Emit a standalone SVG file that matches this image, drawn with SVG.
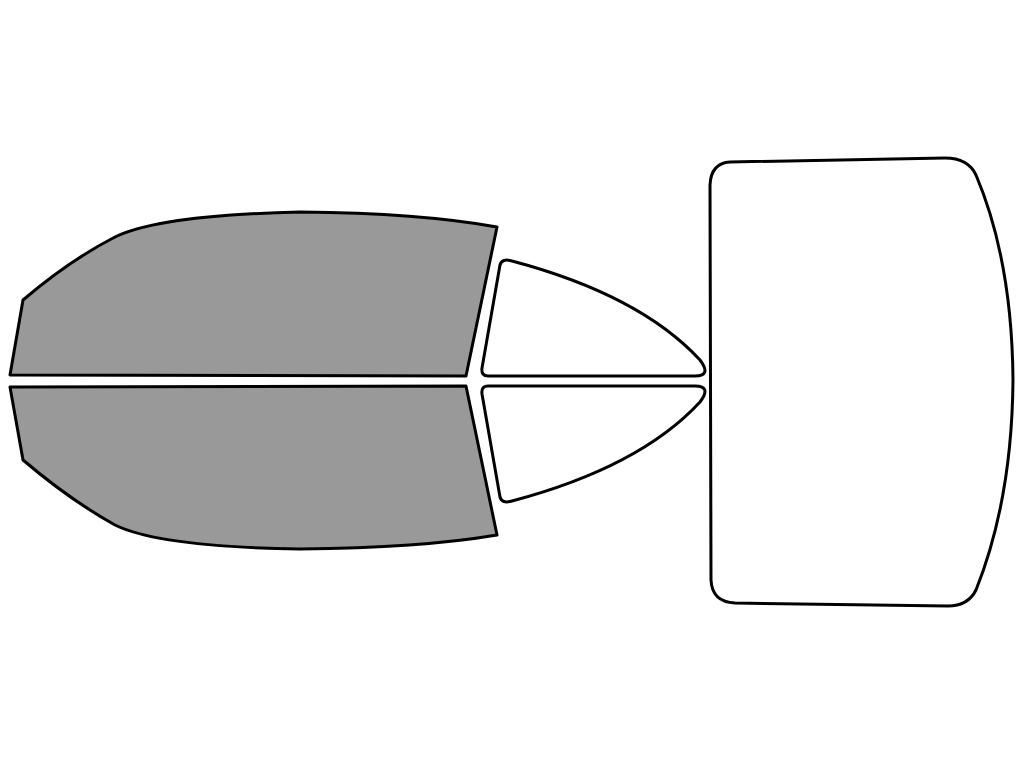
<svg xmlns="http://www.w3.org/2000/svg" width="1024" height="768" viewBox="0 0 1024 768">
<style>.g{fill:#999;stroke:#000;stroke-width:3;stroke-linejoin:round}.w{fill:#fff;stroke:#000;stroke-width:3;stroke-linejoin:round}</style>
<rect width="1024" height="768" fill="#fff"/>
<path class="g" d="M10,375 L23,300 Q70,260 115,237 Q160,215 300,212 Q420,213 497,227 L466,376 Z"/>
<path class="g" d="M10,387 L23,460 Q70,500 115,525 Q160,547 300,549 Q420,548 497,535 L466,386 Z"/>
<path class="w" d="M500,265 Q502,258 512,261 Q640,295 700,360 Q712,376 695,376 L488,376 Q481,376 482,368 Z"/>
<path class="w" d="M500,497 Q502,504 512,501 Q640,467 700,402 Q712,386 695,386 L488,386 Q481,386 482,394 Z"/>
<path class="w" d="M730,162 L945,158 Q968,158 976,175 Q1012,260 1013,380 Q1012,500 976,590 Q968,606 948,606 L735,603 Q712,602 711,580 L710,185 Q711,163 730,162 Z"/>
</svg>
